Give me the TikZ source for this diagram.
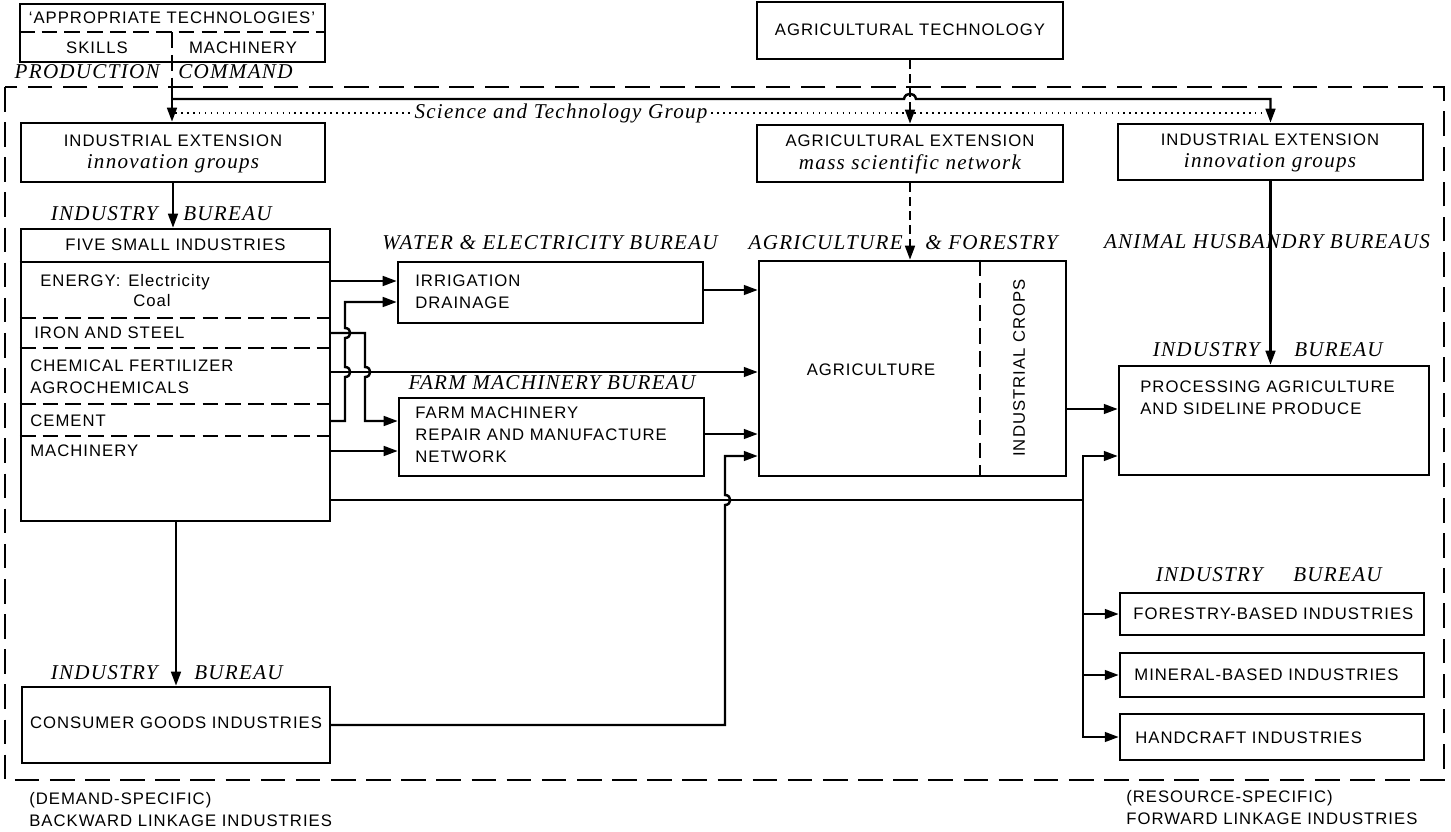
\documentclass[tikz,border=0pt]{standalone}
\usepackage{fontspec}
\setmainfont{Liberation Serif}
\newfontfamily\boxfont{Liberation Sans}[LetterSpace=6]
\newfontfamily\labfont{Liberation Serif}[LetterSpace=6]
\usetikzlibrary{arrows.meta, calc}

\begin{document}
\begin{tikzpicture}[x=0.02cm, y=-0.02cm,
    >={Triangle[length=8pt, width=5.5pt]},
    box/.style={draw, line width=1.4pt, inner sep=0pt},
    txt/.style={font=\boxfont\fontsize{9.5}{12.5}\selectfont, inner sep=0pt},
    bureau/.style={font=\labfont\itshape\fontsize{12}{14}\selectfont, inner sep=0pt},
    link/.style={line width=1.4pt},
    sublink/.style={line width=1.4pt, dash pattern=on 5pt off 3pt},
    divider/.style={line width=1.2pt, dash pattern=on 9pt off 4pt},
    frame/.style={line width=1.3pt, dash pattern=on 14pt off 6pt},
    dots/.style={line width=1.1pt, dash pattern=on 0.9pt off 2.5pt}]
    \useasboundingbox (0,0) rectangle (1451,832);

    % Frame
    \draw[frame] (5,87) rectangle (1444,780);

    % Appropriate technologies
    \node[box, minimum width=6.10cm, minimum height=1.16cm] (appt) at (172.5,33) {};
    \draw[divider] (appt.west |- 0,32) -- (appt.east |- 0,32);
    \draw[divider] (172,32) -- (172,87);
    \node[txt] (apptitle) at (172,18) {‘APPROPRIATE TECHNOLOGIES’};
    \node[txt] (skills) at (97,48) {SKILLS};
    \node[txt] (machy) at (243,48) {MACHINERY};
    \node[bureau, anchor=east] (prod) at (160,72) {PRODUCTION};
    \node[bureau, anchor=west] (comm) at (178,72) {COMMAND};

    % Agricultural technology
    \node[box, minimum width=6.12cm, minimum height=1.14cm] (agtech) at (910,30.5) {};
    \node[txt] (agtechtxt) at (910,30) {AGRICULTURAL TECHNOLOGY};

    % Extension boxes
    \node[box, minimum width=6.08cm, minimum height=1.18cm] (ieL) at (173,152.5) {};
    \node[txt] (ieLa) at (173,141) {INDUSTRIAL EXTENSION};
    \node[bureau] (ieLb) at (173,164) {innovation groups};
    \node[box, minimum width=6.12cm, minimum height=1.14cm] (agext) at (910,153.5) {};
    \node[txt] (agexta) at (910,141) {AGRICULTURAL EXTENSION};
    \node[bureau] (agextb) at (910,164) {mass scientific network};
    \node[box, minimum width=6.10cm, minimum height=1.12cm] (ieR) at (1270.5,152) {};
    \node[txt] (ieRa) at (1270,140) {INDUSTRIAL EXTENSION};
    \node[bureau] (ieRb) at (1270,163) {innovation groups};

    % Command lines
    \coordinate (cmd) at (172,87);
    \draw[link, ->] (cmd) -- (cmd |- ieL.north);
    \draw[link, ->] (172,99) -- (904,99) .. controls (905,92) and (915,92) .. (916,99)
        -| (ieR.north);
    \draw[sublink, ->] (agtech.south) -- (agext.north);
    \node[bureau, inner sep=2pt] (stg) at (561,113) {Science and Technology Group};
    \draw[dots] (175,113) -- (stg.west);
    \draw[dots] (stg.east) -- (1266,113);

    % Five small industries
    \node[bureau, anchor=east] (indA) at (158,214) {INDUSTRY};
    \node[bureau, anchor=west] (burA) at (183,214) {BUREAU};
    \node[box, minimum width=6.18cm, minimum height=5.84cm] (five) at (175.5,375) {};
    \draw[link, ->] (ieL.south) -- (ieL.south |- five.north);
    \draw[link] (five.west |- 0,262) -- (five.east |- 0,262);
    \foreach \yy in {318,348,404,436}
        \draw[divider] (five.west |- 0,\yy) -- (five.east |- 0,\yy);
    \node[txt] (fivetitle) at (175.5,245) {FIVE SMALL INDUSTRIES};
    \node[txt, anchor=base west] (energy) at (40,286) {ENERGY:};
    \node[txt, anchor=base west] (elec) at (128,286) {Electricity};
    \node[txt, anchor=base west] (coal) at (133,306) {Coal};
    \node[txt, anchor=west] (iron) at (34,333) {IRON AND STEEL};
    \node[txt, anchor=west, align=left] (chem) at (30,376.5) {CHEMICAL FERTILIZER\\AGROCHEMICALS};
    \node[txt, anchor=west] (cement) at (30,421) {CEMENT};
    \node[txt, anchor=west] (mach) at (30,451) {MACHINERY};

    % Water & electricity
    \node[bureau] (wateb) at (550,243) {WATER \& ELECTRICITY BUREAU};
    \node[box, minimum width=6.10cm, minimum height=1.22cm] (irr) at (550.5,292.5) {};
    \node[txt, anchor=west, align=left] (irrtxt) at (415,292) {IRRIGATION\\DRAINAGE};

    % Farm machinery
    \node[bureau] (farmb) at (552,383) {FARM MACHINERY BUREAU};
    \node[box, minimum width=6.10cm, minimum height=1.56cm] (farm) at (551.5,437) {};
    \node[txt, anchor=west, align=left] (farmtxt) at (415,435) {FARM MACHINERY\\REPAIR AND MANUFACTURE\\NETWORK};

    % Agriculture
    \node[bureau, anchor=east] (agrib) at (903,243) {AGRICULTURE};
    \node[bureau, anchor=west] (forb) at (925,243) {\& FORESTRY};
    \node[box, minimum width=6.14cm, minimum height=4.30cm] (agri) at (912.5,368.5) {};
    \draw[divider] (agri.north -| 980,0) -- (agri.south -| 980,0);
    \node[txt] (agritxt) at (871,370) {AGRICULTURE};
    \node[txt, rotate=90] (crops) at (1019,368) {INDUSTRIAL CROPS};
    \draw[sublink, ->] (agext.south) -- (agext.south |- agri.north);

    % Animal husbandry and processing
    \node[bureau] (animb) at (1267,242) {ANIMAL HUSBANDRY BUREAUS};
    \node[bureau, anchor=east] (indB) at (1260,350) {INDUSTRY};
    \node[bureau, anchor=west] (burB) at (1294,350) {BUREAU};
    \node[box, minimum width=6.20cm, minimum height=2.18cm] (proc) at (1274,420.5) {};
    \node[txt, anchor=west, align=left] (proctxt) at (1140,397.5) {PROCESSING AGRICULTURE\\AND SIDELINE PRODUCE};
    \draw[link, ->] (ieR.south) -- (ieR.south |- proc.north);

    % Forward linkage industries
    \node[bureau, anchor=east] (indC) at (1263,575) {INDUSTRY};
    \node[bureau, anchor=west] (burC) at (1293,575) {BUREAU};
    \node[box, minimum width=6.08cm, minimum height=0.84cm] (forest) at (1272,614) {};
    \node[txt, anchor=west] (foresttxt) at (1133,614) {FORESTRY-BASED INDUSTRIES};
    \node[box, minimum width=6.08cm, minimum height=0.88cm] (mineral) at (1272,675) {};
    \node[txt, anchor=west] (mineraltxt) at (1134,675) {MINERAL-BASED INDUSTRIES};
    \node[box, minimum width=6.08cm, minimum height=0.92cm] (hand) at (1272,737) {};
    \node[txt, anchor=west] (handtxt) at (1135,738) {HANDCRAFT INDUSTRIES};

    % Consumer goods
    \node[bureau, anchor=east] (indD) at (158,673) {INDUSTRY};
    \node[bureau, anchor=west] (burD) at (194,673) {BUREAU};
    \node[box, minimum width=6.16cm, minimum height=1.52cm] (cons) at (176,725) {};
    \node[txt] (constxt) at (176,723) {CONSUMER GOODS INDUSTRIES};
    \draw[link, ->] (cons.north |- five.south) -- (cons.north);

    % Footers
    \node[txt, anchor=west, align=left] (demand) at (29,810) {(DEMAND-SPECIFIC)\\BACKWARD LINKAGE INDUSTRIES};
    \node[txt, anchor=west, align=left] (resource) at (1126,808) {(RESOURCE-SPECIFIC)\\FORWARD LINKAGE INDUSTRIES};

    % Links out of the five small industries
    \draw[link, ->] (five.east |- 0,281) -- (irr.west |- 0,281);
    \draw[link, ->] (five.east |- 0,421) -- (345,421) -- (345,377)
        .. controls (352,377) and (352,367) .. (345,367) -- (345,338)
        .. controls (352,338) and (352,328) .. (345,328) -- (345,302) -- (irr.west |- 0,302);
    \draw[link, ->] (five.east |- 0,333) -- (365,333) -- (365,367)
        .. controls (372,367) and (372,377) .. (365,377) -- (365,421) -- (farm.west |- 0,421);
    \draw[link, ->] (five.east |- 0,372) -- (agri.west |- 0,372);
    \draw[link, ->] (five.east |- 0,451) -- (farm.west |- 0,451);
    \draw[link, ->] (irr.east |- 0,290) -- (agri.west |- 0,290);
    \draw[link, ->] (farm.east |- 0,434) -- (agri.west |- 0,434);
    \draw[link, ->] (agri.east |- 0,409) -- (proc.west |- 0,409);

    % Bus to the forward linkage industries
    \coordinate (bus) at (1083,500);
    \draw[link] (five.east |- 0,500) -- (bus);
    \draw[link, ->] (bus) |- (proc.west |- 0,456);
    \foreach \b in {forest, mineral, hand}
        \draw[link, ->] (bus) |- (\b.west);
    \draw[link, ->] (cons.east) -- (725,725) -- (725,505)
        .. controls (732,505) and (732,495) .. (725,495) -- (725,456) -- (agri.west |- 0,456);
\end{tikzpicture}
\end{document}
